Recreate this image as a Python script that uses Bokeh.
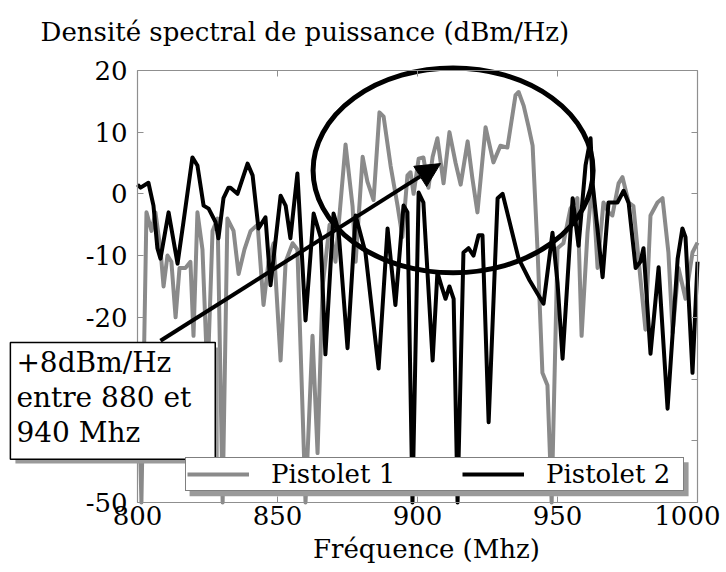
from bokeh.plotting import figure
from bokeh.models import (Range1d, LinearAxis, FixedTicker, Label, Arrow, NormalHead,
                          Legend, LegendItem, BoxAnnotation)
from bokeh.embed import file_html
from bokeh.resources import INLINE

# ---------------- data ----------------
freq_p1 = [800.0, 801.4, 803.2, 805.0, 806.4, 808.2, 809.3, 810.7, 812.1, 813.6, 815.0, 817.1,
           818.9, 820.0, 821.4, 823.2, 825.0, 826.8, 828.6, 830.4, 832.1, 834.3, 836.1, 838.2,
           840.4, 842.9, 845.0, 846.8, 848.6, 851.1, 852.9, 855.4, 857.1, 860.0, 862.5, 864.3,
           866.1, 868.6, 870.7, 874.3, 876.8, 877.9, 880.4, 882.1, 884.3, 886.4, 887.9, 890.4,
           892.9, 894.6, 896.4, 897.5, 898.6, 900.4, 902.1, 903.9, 905.4, 907.1, 909.3, 911.4,
           913.6, 915.4, 917.9, 919.6, 921.4, 924.3, 927.1, 929.6, 932.1, 935.0, 936.1, 937.9,
           939.6, 941.1, 942.9, 944.6, 946.4, 947.9, 950.0, 952.1, 954.6, 957.1, 958.6, 960.7,
           962.5, 964.3, 966.4, 968.2, 969.6, 971.8, 973.2, 975.4, 977.1, 979.6, 981.4, 983.2,
           985.7, 987.5, 989.6, 991.1, 993.2, 995.7, 998.2, 1000.0]
dsp_p1 = [-25, -50, -3, -6, -3, -9, -15, -10, -11, -20, -12, -12,
          -11, -23, -3, -9, -30, -6, -4, -50, -4, -6, -13, -9,
          -6, -5, -18, -11, -8, -27, -11, -8, -9, -50, -23, -42,
          -15, -5, -11, 8, -2, -11, 6, 2, -1, 13.2, 12.5, 4.5,
          -2, -7, 3, 3.5, 0, 5.7, 5.9, 1, 6, 9, 1.7, 10,
          5, 1.5, 8.5, 2.5, -3, 10.8, 5.1, 7.8, 7.5, 16, 16.5, 14.3,
          11, 7.8, -9.5, -29, -31, -50, -8.8, -8, -2.4, -0.7, -23, -6.3,
          2, -12, -1.4, -3, -3.5, 1.7, 2.7, -1.4, -2, -13.7, -22, -3.5,
          -1.4, -0.7, -9.5, -22.5, -12, -17, -9.5, -7.9]

freq_p2 = [800.0, 801.1, 803.9, 805.7, 807.1, 808.2, 811.1, 814.3, 816.4, 819.6, 821.4, 823.6,
           825.4, 827.9, 828.9, 830.7, 832.5, 833.2, 835.7, 839.3, 841.1, 843.2, 845.7, 847.5,
           851.1, 852.9, 854.6, 857.1, 860.0, 862.9, 865.4, 867.1, 870.0, 871.8, 875.0, 877.9,
           881.4, 886.1, 889.3, 892.1, 895.0, 896.4, 898.2, 900.4, 902.1, 905.4, 907.1, 908.6,
           910.0, 911.4, 912.9, 914.3, 916.4, 918.2, 920.0, 921.8, 923.2, 925.4, 928.6, 930.4,
           936.1, 940.0, 945.0, 948.2, 950.0, 951.8, 955.4, 957.5, 960.0, 961.8, 962.5, 966.1,
           968.2, 971.4, 973.6, 975.4, 977.9, 979.6, 980.7, 983.2, 986.1, 989.3, 992.9, 994.6,
           995.7, 998.2, 1000.0]
dsp_p2 = [1.5, 1, 1.8, -1.9, -8.8, -10.5, -3, -11.3, -4.6, 5.9, 4.6, -1.9,
          -2.4, -4.6, -7.2, -0.7, 1, 1, 0, 4.9, 3, -5.6, -3.8, -14.8,
          -0.3, -1.9, -7.2, 3.3, -20.5, -3.2, -7, -26, -3.2, -6, -25, -3.5,
          -9.5, -28.3, -5.6, -18, -1.9, -3, -50, 0.2, -1.4, -27, -12.7, -15,
          -17, -15, -17, -50, -9.5, -8.8, -10, -6.7, -6.7, -37, -0.7, 0,
          -10.5, -14, -17.8, -6.3, -14.4, -26.7, -0.7, -8.4, 4.6, 9, 1.8, -13.5,
          -1.4, -1.4, 0.5, -1.5, -12, -11, -8.8, -25.9, -11.9, -34.8, -10.5, -5.6,
          -7, -29, -11]

x_ticks = [800, 850, 900, 950, 1000]
y_ticks = [20, 10, 0, -10, -20, -30, -40, -50]
y_tick_labels = ["20", "10", "0", "-10", "-20", "-30", "-40", "-50"]

series_names = ["Pistolet 1", "Pistolet 2"]
title_text = "Densité spectral de puissance (dBm/Hz)"
xlabel_text = "Fréquence (Mhz)"
note_text = "+8dBm/Hz\nentre 880 et\n940 Mhz"

# annotation geometry (data units)
ell_cx, ell_cy, ell_w, ell_h = 912.7, 3.8, 100.0, 33.2
arrow_x0, arrow_y0, arrow_x1, arrow_y1 = 808.2, -23.8, 908.2, 4.9

FONT = "DejaVu Serif"
FS = "26px"
GRAY = "#8a8a8a"
FRAME = "#8f8f8f"
SHADOW = "#9a9a9a"

p = figure(width=720, height=566, output_backend="svg", toolbar_location=None,
           x_range=Range1d(752.5, 1008.2), y_range=Range1d(-60.37, 31.0),
           min_border_left=4, min_border_right=0, min_border_top=2, min_border_bottom=0,
           x_axis_location=None, y_axis_location=None)
p.xgrid.visible = False
p.ygrid.visible = False
p.outline_line_color = None
p.background_fill_color = "white"
p.border_fill_color = "white"

def style_axis(ax, labels=True):
    ax.axis_line_color = FRAME
    ax.axis_line_width = 1.2
    ax.major_tick_line_color = FRAME
    ax.major_tick_in = 6
    ax.major_tick_out = 0
    ax.minor_tick_line_color = None
    ax.major_label_text_font = FONT
    ax.major_label_text_font_size = FS
    ax.major_label_text_color = "black" if labels else None

bx = LinearAxis(ticker=FixedTicker(ticks=x_ticks), fixed_location=-50, bounds=(800, 1000))
style_axis(bx)
bx.major_label_standoff = 4
p.add_layout(bx, "below")

tx = LinearAxis(ticker=FixedTicker(ticks=x_ticks), fixed_location=20, bounds=(800, 1000))
style_axis(tx, labels=False)
p.add_layout(tx, "above")

ly = LinearAxis(ticker=FixedTicker(ticks=y_ticks), fixed_location=800, bounds=(-50, 20),
                major_label_overrides={t: s for t, s in zip(y_ticks, y_tick_labels)})
style_axis(ly)
ly.major_label_standoff = 10
p.add_layout(ly, "left")

ry = LinearAxis(ticker=FixedTicker(ticks=y_ticks), fixed_location=1000, bounds=(-50, 20))
style_axis(ry, labels=False)
p.add_layout(ry, "right")

r1 = p.line(freq_p1, dsp_p1, line_color=GRAY, line_width=4, line_join="round")
r2 = p.line(freq_p2, dsp_p2, line_color="black", line_width=4, line_join="round")

# ellipse and arrow
p.ellipse(x=[ell_cx], y=[ell_cy], width=[ell_w], height=[ell_h],
          fill_color=None, line_color="black", line_width=5)
p.add_layout(Arrow(end=NormalHead(size=24, fill_color="black", line_color="black"),
                   x_start=arrow_x0, y_start=arrow_y0, x_end=arrow_x1, y_end=arrow_y1,
                   line_width=4, line_color="black"))

# title and x-axis title
p.add_layout(Label(x=765.4, y=26.2, text=title_text, text_font=FONT, text_font_size=FS,
                   text_baseline="middle", text_align="left", text_color="black"))
p.add_layout(Label(x=903.2, y=-57.5, text=xlabel_text, text_font=FONT, text_font_size=FS,
                   text_baseline="middle", text_align="center", text_color="black"))

# note box with shadow
p.add_layout(BoxAnnotation(left=756.4, right=829.0, top=-24.9, bottom=-43.7,
                           fill_color=SHADOW, fill_alpha=1.0, line_color=None))
p.add_layout(Label(x=754.6, y=-24.1, text=note_text,
                   text_font=FONT, text_font_size="28px", text_line_height=1.07,
                   text_baseline="top", text_align="left", text_color="black",
                   background_fill_color="white", background_fill_alpha=1.0,
                   border_line_color="black", border_line_width=1.5,
                   padding=(6, 24, 3, 10)))

# legend shadow
p.add_layout(BoxAnnotation(left=818.6, right=996.8, top=-43.5, bottom=-49.0,
                           fill_color=SHADOW, fill_alpha=1.0, line_color=None))
legend = Legend(items=[LegendItem(label=series_names[0], renderers=[r1]),
                       LegendItem(label=series_names[1], renderers=[r2])],
                orientation="horizontal", location=(181, 75),
                label_text_font=FONT, label_text_font_size=FS, label_text_color="black",
                glyph_width=62, glyph_height=28, label_standoff=22, label_width=136,
                spacing=55, padding=1, margin=0,
                border_line_color="black", border_line_width=1.5,
                background_fill_color="white", background_fill_alpha=1.0)
p.add_layout(legend, "center")

open("out.html", "w").write(file_html(p, INLINE))
